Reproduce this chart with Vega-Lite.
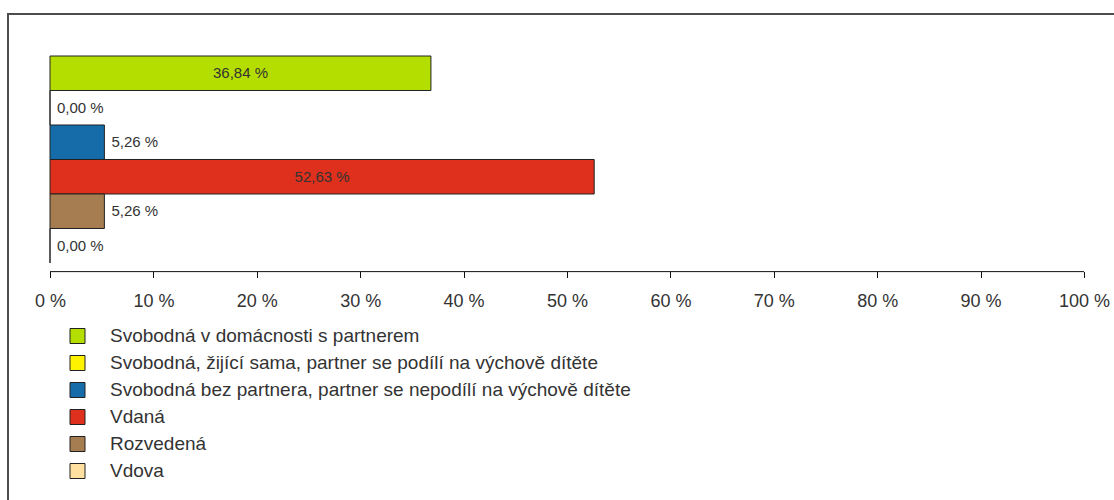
{
  "$schema": "https://vega.github.io/schema/vega-lite/v6.json",
  "autosize": "none",
  "width": 1106,
  "height": 486,
  "padding": {"left": 8, "top": 14, "right": 0, "bottom": 0},
  "background": "white",
  "config": {
    "font": "Liberation Sans",
    "view": {"stroke": "#4d4d4d", "strokeWidth": 2, "strokeDash": [1106, 1592, 486]}
  },
  "data": {
    "values": [
      {"cat": "Svobodná v domácnosti s partnerem", "value": 36.84, "label": "36,84 %"},
      {"cat": "Svobodná, žijící sama, partner se podílí na výchově dítěte", "value": 0, "label": "0,00 %"},
      {"cat": "Svobodná bez partnera, partner se nepodílí na výchově dítěte", "value": 5.26, "label": "5,26 %"},
      {"cat": "Vdaná", "value": 52.63, "label": "52,63 %"},
      {"cat": "Rozvedená", "value": 5.26, "label": "5,26 %"},
      {"cat": "Vdova", "value": 0, "label": "0,00 %"}
    ]
  },
  "encoding": {
    "y": {
      "field": "cat",
      "type": "nominal",
      "sort": null,
      "title": null,
      "scale": {
        "domain": [
          "_top",
          "Svobodná v domácnosti s partnerem",
          "Svobodná, žijící sama, partner se podílí na výchově dítěte",
          "Svobodná bez partnera, partner se nepodílí na výchově dítěte",
          "Vdaná",
          "Rozvedená",
          "Vdova",
          "_b1", "_b2", "_b3", "_b4", "_b5", "_b6"
        ],
        "paddingInner": 0,
        "paddingOuter": 0.5435,
        "align": 0.2
      },
      "axis": null
    }
  },
  "layer": [
    {
      "mark": {"type": "bar", "stroke": "#222222", "strokeWidth": 1},
      "encoding": {
        "x": {
          "field": "value",
          "type": "quantitative",
          "title": null,
          "scale": {"domain": [-4.062, 102.901], "nice": false, "zero": false},
          "axis": {
            "values": [0, 10, 20, 30, 40, 50, 60, 70, 80, 90, 100],
            "labelExpr": "datum.value + ' %'",
            "domain": false,
            "grid": false,
            "tickSize": 6,
            "tickColor": "#111111",
            "tickWidth": 1,
            "labelFontSize": 18,
            "labelColor": "#333333",
            "labelPadding": 15,
            "labelFlush": false,
            "labelOverlap": false,
            "offset": -228.5
          }
        },
        "color": {
          "field": "cat",
          "type": "nominal",
          "scale": {
            "domain": [
              "Svobodná v domácnosti s partnerem",
              "Svobodná, žijící sama, partner se podílí na výchově dítěte",
              "Svobodná bez partnera, partner se nepodílí na výchově dítěte",
              "Vdaná",
              "Rozvedená",
              "Vdova"
            ],
            "range": ["#b4de00", "#fff200", "#166ca8", "#de301c", "#a67d50", "#ffe0a0"]
          },
          "legend": {
            "orient": "none",
            "legendX": 60,
            "legendY": 312.5,
            "title": null,
            "direction": "vertical",
            "symbolType": "square",
            "symbolSize": 225,
            "symbolStrokeColor": "#222222",
            "symbolStrokeWidth": 1,
            "symbolOpacity": 1,
            "labelFontSize": 19,
            "labelColor": "#333333",
            "rowPadding": 7,
            "labelOffset": 23,
            "padding": 0,
            "labelLimit": 1000
          }
        }
      }
    },
    {
      "transform": [{"filter": "datum.value > 20"}, {"calculate": "datum.value / 2", "as": "mid"}],
      "mark": {"type": "text", "fontSize": 15, "color": "#333333", "baseline": "middle", "align": "center"},
      "encoding": {
        "x": {"field": "mid", "type": "quantitative", "title": null},
        "text": {"field": "label"}
      }
    },
    {
      "transform": [{"filter": "datum.value <= 20"}],
      "mark": {"type": "text", "fontSize": 15, "color": "#333333", "baseline": "middle", "align": "left", "dx": 7},
      "encoding": {
        "x": {"field": "value", "type": "quantitative", "title": null},
        "text": {"field": "label"}
      }
    },
    {
      "transform": [{"filter": "datum.cat === 'Vdova'"}],
      "mark": {"type": "rule", "color": "#111111", "strokeWidth": 1},
      "encoding": {
        "y": {"field": "cat", "type": "nominal", "bandPosition": 1.25},
        "x": {"datum": 0},
        "x2": {"datum": 100}
      }
    }
  ]
}
